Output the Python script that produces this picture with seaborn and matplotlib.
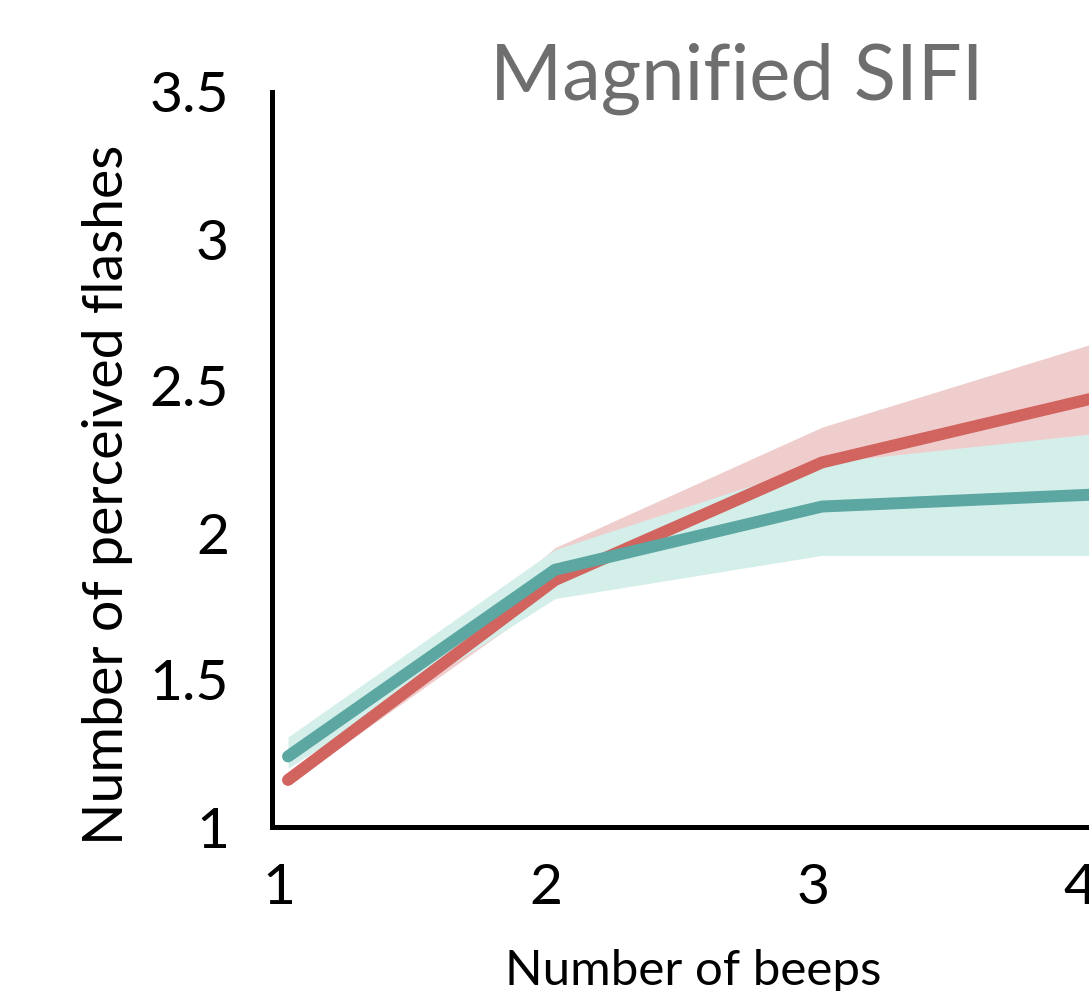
import matplotlib
matplotlib.use("Agg")
import matplotlib.pyplot as plt
import matplotlib.transforms as mtransforms
import seaborn as sns
import pandas as pd

# ---- data ----
beeps = [1, 2, 3, 4]
condition_names = ["Red", "Teal"]
red_mean = [1.16, 1.84, 2.24, 2.455]
red_lo = [1.145, 1.79, 2.11, 2.27]
red_hi = [1.175, 1.95, 2.36, 2.64]
teal_mean = [1.24, 1.875, 2.09, 2.13]
teal_lo = [1.20, 1.777, 1.924, 1.924]
teal_hi = [1.306, 1.944, 2.239, 2.336]
y_ticks = [1, 1.5, 2, 2.5, 3, 3.5]
y_tick_labels = ["1", "1.5", "2", "2.5", "3", "3.5"]
x_ticks = [1, 2, 3, 4]
x_tick_labels = ["1", "2", "3", "4"]
title = "Magnified SIFI"
x_label = "Number of beeps"
y_label = "Number of perceived flashes"

RED_LINE = "#d1645f"
RED_BAND = "#f0cdcd"
TEAL_LINE = "#5ca7a2"
TEAL_BAND = "#d4eee9"

sns.set_style("white")
plt.rcParams["font.family"] = ["Lato", "DejaVu Sans"]

W, H = 1089, 991
fig = plt.figure(figsize=(W / 100, H / 100), dpi=100)
ax = fig.add_axes([272 / W, 1 - 827 / H, 1 - 272 / W, (827 - 92) / H])

df = pd.DataFrame({
    "beeps": beeps * 2,
    "flashes": red_mean + teal_mean,
    "cond": [condition_names[0]] * 4 + [condition_names[1]] * 4,
})

ax.fill_between(beeps, red_lo, red_hi, color=RED_BAND, lw=0, zorder=1)
ax.fill_between(beeps, teal_lo, teal_hi, color=TEAL_BAND, lw=0, zorder=2)

sns.lineplot(data=df[df.cond == "Red"], x="beeps", y="flashes", color=RED_LINE,
             linewidth=8.6, ax=ax, zorder=3, solid_capstyle="round", errorbar=None)
sns.lineplot(data=df[df.cond == "Teal"], x="beeps", y="flashes", color=TEAL_LINE,
             linewidth=8.6, ax=ax, zorder=4, solid_capstyle="round", errorbar=None)

ax.set_xlim(1 - 16 / 267, 4)
ax.set_ylim(1, 3.5)
ax.set_xticks(x_ticks)
ax.set_xticklabels(x_tick_labels)
ax.set_yticks(y_ticks)
ax.set_yticklabels(y_tick_labels)

for s in ["top", "right"]:
    ax.spines[s].set_visible(False)
for s in ["left", "bottom"]:
    ax.spines[s].set_color("black")
    ax.spines[s].set_linewidth(3.6)

ax.tick_params(axis="both", length=0, labelsize=41, colors="black")
ax.tick_params(axis="x", pad=26)
ax.tick_params(axis="y", pad=31)

offset = mtransforms.ScaledTranslation(-9 / 100, 0, fig.dpi_scale_trans)
for lab in ax.get_xticklabels():
    lab.set_transform(lab.get_transform() + offset)

ax.set_xlabel(x_label, fontsize=35.5, color="black")
ax.set_ylabel(y_label, fontsize=40, color="black")
ax.xaxis.set_label_coords((693 - 272) / 817, (827 - 949) / 735)
ax.yaxis.set_label_coords((133 - 272) / 817, (827 - 495) / 735)

if ax.get_legend() is not None:
    ax.get_legend().remove()

fig.text(737 / W, 1 - 100 / H, title, ha="center", va="baseline",
         fontsize=56, color="#6e6e6e")

fig.savefig("out.png", dpi=100)
